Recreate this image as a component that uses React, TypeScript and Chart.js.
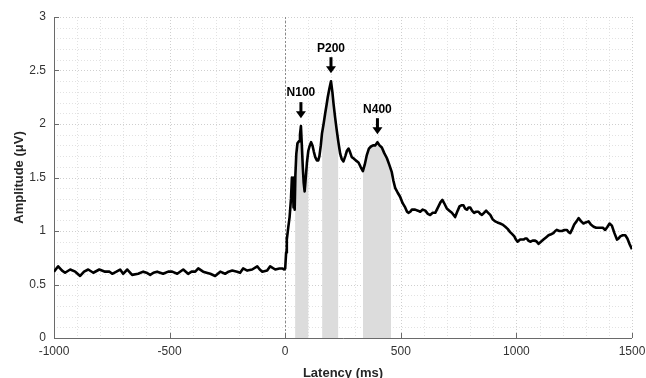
import React, { useEffect, useRef } from "react";
import { Chart, registerables } from "chart.js";

Chart.register(...registerables);

const latency = [
  -1000, -982, -965, -952, -930, -908, -887, -870, -852, -830, -804, -779, -760, -748, -730, -714, -701, -683, -662, -636,
  -614, -600, -584, -570, -554, -528, -506, -489, -467, -441, -420, -405, -389, -376, -355, -340, -324, -303, -281, -260,
  -245, -229, -208, -195, -182, -164, -143, -121, -110, -99, -78, -65, -43, -25, -13, -4, 0,
  4, 7, 13, 19, 25, 29, 33, 36, 38, 41, 44, 48, 53, 60, 64, 68, 72, 76, 80, 84, 89, 94, 100, 105, 112, 118, 124, 130,
  137, 143, 148, 154, 159, 166, 173, 179, 184, 191, 198, 204, 209, 216, 223, 230, 238, 245, 252, 260, 267, 274, 280,
  288, 295, 305, 317, 326, 336, 344, 353, 362, 371, 380, 389, 399, 408, 418, 428, 440, 450, 461, 468, 476, 486, 497,
  508, 519, 527, 533, 541, 548, 562, 574, 584, 595, 606, 617, 627, 638, 649, 656, 663, 672, 680, 690, 699, 710, 721,
  735, 744, 754, 762, 771, 778, 786, 793, 800, 808, 817, 826, 836, 844, 851, 860, 869, 878, 887, 897, 908, 918, 930,
  940, 952, 962, 973, 982, 991, 998, 1005, 1016, 1024, 1031, 1038, 1045, 1052, 1060, 1070, 1081, 1088, 1096, 1106,
  1117, 1128, 1139, 1150, 1160, 1168, 1175, 1186, 1197, 1208, 1218, 1226, 1233, 1242, 1250, 1260, 1269, 1280, 1290,
  1300, 1312, 1322, 1334, 1345, 1355, 1364, 1374, 1384, 1394, 1403, 1413, 1424, 1435, 1442, 1449, 1460, 1471, 1480,
  1489, 1500,
];

const amplitude = [
  0.62, 0.67, 0.63, 0.61, 0.64, 0.62, 0.58, 0.62, 0.64, 0.61, 0.64, 0.62, 0.62, 0.6, 0.62, 0.64, 0.6, 0.64, 0.59, 0.6,
  0.62, 0.61, 0.59, 0.61, 0.62, 0.6, 0.62, 0.62, 0.6, 0.64, 0.6, 0.62, 0.62, 0.65, 0.62, 0.61, 0.6, 0.58, 0.62, 0.6,
  0.62, 0.63, 0.62, 0.61, 0.65, 0.63, 0.64, 0.67, 0.64, 0.62, 0.63, 0.67, 0.64, 0.65, 0.65, 0.64, 0.65,
  0.8, 0.92, 1.03, 1.13, 1.3, 1.5, 1.45, 1.22, 1.5, 1.2, 1.52, 1.72, 1.82, 1.84, 1.9, 1.98, 1.8, 1.6, 1.45, 1.37, 1.5,
  1.64, 1.75, 1.79, 1.83, 1.8, 1.74, 1.69,
  1.66, 1.66, 1.7, 1.8, 1.91, 2.0, 2.1, 2.18, 2.25, 2.33, 2.4, 2.3, 2.19, 2.06, 1.94, 1.83, 1.72, 1.67, 1.65, 1.7,
  1.75, 1.77, 1.74,
  1.69, 1.68, 1.66, 1.64, 1.6, 1.56, 1.62, 1.71, 1.77, 1.79, 1.8, 1.8, 1.83, 1.8, 1.78, 1.73, 1.68, 1.62, 1.55, 1.47,
  1.4, 1.36, 1.32,
  1.26, 1.22, 1.18, 1.17, 1.18, 1.2, 1.2, 1.19, 1.18, 1.2, 1.19, 1.16, 1.15, 1.17, 1.17, 1.2, 1.23, 1.27, 1.29, 1.25,
  1.21, 1.19, 1.17,
  1.13, 1.18, 1.23, 1.24, 1.24, 1.21, 1.2, 1.22, 1.22, 1.19, 1.17, 1.18, 1.18, 1.16, 1.15, 1.17, 1.19, 1.17, 1.15,
  1.11, 1.09, 1.08, 1.07,
  1.06, 1.04, 1.02, 0.99, 0.97, 0.95, 0.92, 0.9, 0.92, 0.92, 0.92, 0.93, 0.93, 0.91, 0.9, 0.91, 0.91, 0.9, 0.88, 0.9,
  0.92, 0.94, 0.96, 0.97, 0.98, 1.0, 1.01, 1.0, 1.0, 1.01, 1.01, 0.99, 0.98, 1.02, 1.06, 1.09, 1.12, 1.09, 1.07,
  1.08, 1.09, 1.06, 1.04, 1.03, 1.03, 1.03, 1.03, 1.01, 1.04, 1.07, 1.05, 0.98, 0.92, 0.93, 0.95, 0.96, 0.96, 0.93,
  0.88, 0.83,
];

const windowStart = [43, 160, 337];
const windowEnd = [100, 229, 458];

const peakLabels = ["N100", "P200", "N400"];
const peakLatency = [68, 198, 399];
const peakAmplitude = [1.98, 2.4, 1.83];

const xTickValues = [-1000, -500, 0, 500, 1000, 1500];
const yTickValues = [0, 0.5, 1, 1.5, 2, 2.5, 3];

const FONT = "'Liberation Sans', Arial, Helvetica, sans-serif";

const decorPlugin = {
  id: "decor",
  beforeDatasetsDraw(chart: any) {
    const { ctx, chartArea, scales } = chart;
    const xs = scales.x;
    const ys = scales.y;
    const { left, right, top, bottom } = chartArea;
    ctx.save();
    // grid
    ctx.lineWidth = 1;
    ctx.setLineDash([1, 2]);
    for (let v = -1000; v <= 1500; v += 100) {
      const x = Math.round(xs.getPixelForValue(v)) + 0.5;
      ctx.strokeStyle = v % 500 === 0 ? "#cfcfcf" : "#e2e2e2";
      ctx.beginPath();
      ctx.moveTo(x, top);
      ctx.lineTo(x, bottom);
      ctx.stroke();
    }
    for (let i = 0; i <= 30; i++) {
      const y = Math.round(ys.getPixelForValue(i / 10)) + 0.5;
      ctx.strokeStyle = i % 5 === 0 ? "#cfcfcf" : "#e2e2e2";
      ctx.beginPath();
      ctx.moveTo(left, y);
      ctx.lineTo(right, y);
      ctx.stroke();
    }
    ctx.setLineDash([]);
    // shaded windows under the curve
    const y0 = ys.getPixelForValue(0);
    for (let w = 0; w < windowStart.length; w++) {
      const xa = xs.getPixelForValue(windowStart[w]);
      const xb = xs.getPixelForValue(windowEnd[w]);
      ctx.save();
      ctx.beginPath();
      ctx.rect(xa, top, xb - xa, bottom - top);
      ctx.clip();
      ctx.beginPath();
      ctx.moveTo(xs.getPixelForValue(latency[0]), y0);
      for (let i = 0; i < latency.length; i++) {
        ctx.lineTo(xs.getPixelForValue(latency[i]), ys.getPixelForValue(amplitude[i]));
      }
      ctx.lineTo(xs.getPixelForValue(latency[latency.length - 1]), y0);
      ctx.closePath();
      ctx.fillStyle = "#dcdcdc";
      ctx.fill();
      ctx.restore();
    }
    // zero latency line
    const xz = Math.round(xs.getPixelForValue(0)) + 0.5;
    ctx.strokeStyle = "#8a8a8a";
    ctx.setLineDash([2, 2]);
    ctx.beginPath();
    ctx.moveTo(xz, top);
    ctx.lineTo(xz, bottom);
    ctx.stroke();
    ctx.setLineDash([]);
    // axes
    ctx.strokeStyle = "#6a6a6a";
    ctx.lineWidth = 1;
    ctx.beginPath();
    ctx.moveTo(left + 0.5, top);
    ctx.lineTo(left + 0.5, bottom + 0.5);
    ctx.lineTo(right, bottom + 0.5);
    ctx.stroke();
    ctx.beginPath();
    for (const v of xTickValues) {
      const x = Math.round(xs.getPixelForValue(v)) + 0.5;
      ctx.moveTo(x, bottom);
      ctx.lineTo(x, bottom - 5);
    }
    for (const v of yTickValues) {
      const y = Math.round(ys.getPixelForValue(v)) + 0.5;
      ctx.moveTo(left, y);
      ctx.lineTo(left + 5, y);
    }
    ctx.stroke();
    ctx.restore();
  },
  afterDatasetsDraw(chart: any) {
    const { ctx, scales } = chart;
    const xs = scales.x;
    const ys = scales.y;
    ctx.save();
    ctx.fillStyle = "#000";
    ctx.font = `bold 12px ${FONT}`;
    ctx.textAlign = "center";
    ctx.textBaseline = "middle";
    for (let i = 0; i < peakLabels.length; i++) {
      const px = xs.getPixelForValue(peakLatency[i]);
      const py = ys.getPixelForValue(peakAmplitude[i]);
      const tip = py - 8;
      ctx.fillRect(px - 1.5, tip - 16, 3, 10);
      ctx.beginPath();
      ctx.moveTo(px - 5, tip - 7);
      ctx.lineTo(px + 5, tip - 7);
      ctx.lineTo(px, tip);
      ctx.closePath();
      ctx.fill();
      ctx.fillText(peakLabels[i], px, tip - 25);
    }
    ctx.restore();
  },
};

export default function App() {
  const canvasRef = useRef<HTMLCanvasElement | null>(null);

  useEffect(() => {
    const canvas = canvasRef.current;
    if (!canvas) return;
    const chart = new Chart(canvas, {
      type: "line",
      data: {
        datasets: [
          {
            data: latency.map((x, i) => ({ x, y: amplitude[i] })),
            borderColor: "#000",
            borderWidth: 2.6,
            pointRadius: 0,
            tension: 0,
            fill: false,
            borderJoinStyle: "round",
          },
        ],
      },
      options: {
        responsive: false,
        animation: false,
        devicePixelRatio: 1,
        layout: { padding: { top: 17, right: 14, left: 0, bottom: 0 } },
        plugins: { legend: { display: false }, tooltip: { enabled: false } },
        scales: {
          x: {
            type: "linear",
            min: -1000,
            max: 1500,
            afterBuildTicks: (s: any) => {
              s.ticks = xTickValues.map((value) => ({ value }));
            },
            afterFit: (s: any) => {
              s.height = 40;
              s.paddingRight = 0;
              s.paddingLeft = 0;
            },
            grid: { display: false, drawTicks: false },
            border: { display: false },
            ticks: {
              font: { family: FONT, size: 12 },
              color: "#333",
              padding: 6,
              maxRotation: 0,
              autoSkip: false,
              callback: (v: any) => String(v),
            },
            title: {
              display: true,
              text: "Latency (ms)",
              font: { family: FONT, size: 13, weight: "bold", lineHeight: 1 },
              color: "#262626",
              padding: { top: 0, bottom: -2 },
            },
          },
          y: {
            type: "linear",
            min: 0,
            max: 3,
            afterBuildTicks: (s: any) => {
              s.ticks = yTickValues.map((value) => ({ value }));
            },
            afterFit: (s: any) => {
              s.width = 54;
              s.paddingTop = 0;
              s.paddingBottom = 0;
            },
            grid: { display: false, drawTicks: false },
            border: { display: false },
            ticks: {
              font: { family: FONT, size: 12 },
              color: "#333",
              padding: 8,
              autoSkip: false,
              callback: (v: any) => String(v),
            },
            title: {
              display: true,
              text: "Amplitude (μV)",
              font: { family: FONT, size: 13, weight: "bold", lineHeight: 1 },
              color: "#262626",
              padding: { top: 13, bottom: 0 },
            },
          },
        },
      },
      plugins: [decorPlugin],
    });
    return () => chart.destroy();
  }, []);

  return (
    <div style={{ position: "absolute", left: 0, top: 0, width: 646, height: 378, background: "#fff" }}>
      <canvas ref={canvasRef} width={646} height={378} style={{ display: "block" }} />
    </div>
  );
}
